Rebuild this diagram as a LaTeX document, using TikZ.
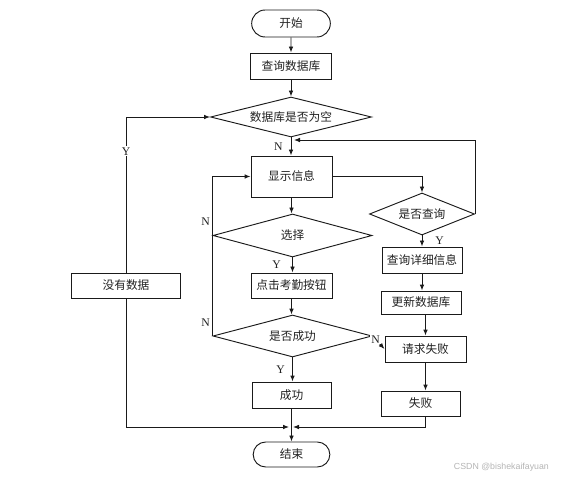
\documentclass[tikz,border=0pt]{standalone}
\usepackage{fontspec}
\setmainfont{Liberation Serif}
\newfontfamily\cjk{Noto Sans CJK SC}
\newfontfamily\wmfont{Liberation Sans}
\usepackage{tikz}
\usepackage{xcolor}
\usetikzlibrary{
  arrows.meta, positioning, shapes.geometric, shapes.misc, calc
}
\definecolor{fcline}{HTML}{1A1A1A}
\definecolor{fctext}{HTML}{222222}
\definecolor{wmgray}{HTML}{B4B4B4}

\begin{document}
\begin{tikzpicture}[x=0.03cm, y=-0.03cm,
  terminal/.style={rounded rectangle, draw=fcline, line width=0.8pt, fill=white,
    minimum width=24.3mm, minimum height=8.1mm, inner sep=1pt,
    font=\cjk\fontsize{10}{12}\selectfont, text=fctext},
  proc/.style={rectangle, draw=fcline, line width=0.8pt, fill=white,
    minimum width=24.3mm, minimum height=7.8mm, inner sep=1pt,
    font=\cjk\fontsize{10}{12}\selectfont, text=fctext},
  decide/.style={diamond, aspect=4, draw=fcline, line width=0.8pt, fill=white,
    minimum width=48.3mm, minimum height=12mm, inner sep=1pt,
    font=\cjk\fontsize{10}{12}\selectfont, text=fctext},
  flow/.style={-{Latex[length=1.8mm, width=1.4mm]}, draw=fcline, line width=0.8pt},
  yn/.style={font=\fontsize{10}{12}\selectfont, inner sep=1pt, text=fctext}
]
  \useasboundingbox (0,0) rectangle (586,481);

  % main column
  \node[terminal] (start) at (291,23.5) {开始};
  \node[proc] (qdb) at (291,66) {查询数据库};
  \node[decide] (empty) at (291,117) {数据库是否为空};
  \node[proc, minimum height=12.3mm] (show) at (291.5,176.5) {显示信息};
  \node[decide, minimum width=47.7mm, minimum height=12.9mm] (pick) at (292.5,235.5) {选择};
  \node[proc, minimum height=7.5mm] (click) at (291.5,285.5) {点击考勤按钮};
  \node[decide, minimum width=47.7mm, minimum height=12.6mm] (okq) at (292.5,336) {是否成功};
  \node[proc, minimum width=23.7mm] (ok) at (291.5,395) {成功};
  \node[terminal, minimum width=23.7mm, minimum height=7.5mm] (stop) at (291.5,454.5) {结束};

  % side columns
  \node[proc, minimum width=32.7mm, minimum height=7.5mm] (nodata) at (126,285.5) {没有数据};
  \node[decide, minimum width=31.5mm, minimum height=12.6mm] (ask) at (422,214) {是否查询};
  \node[proc, minimum width=24mm] (detail) at (422,260) {查询详细信息};
  \node[proc, minimum width=24mm, minimum height=6.9mm] (upd) at (421,302.5) {更新数据库};
  \node[proc] (reqfail) at (425.5,349) {请求失败};
  \node[proc, minimum width=23.7mm, minimum height=7.5mm] (fail) at (420.5,403.5) {失败};

  \coordinate (backin) at (294,140);
  \coordinate (mergeR) at (293,427);
  \coordinate (mergeL) at (289,427);

  \draw[flow] (start) -- (qdb);
  \draw[flow] (qdb) -- (empty);
  \draw[flow] (empty) -- node[yn, left=2mm] (nA) {N} (empty |- show.north);
  \draw[flow] (show) -- (show |- pick.north);
  \draw[flow] (pick) -- node[yn, left=3mm] (yA) {Y} (pick |- click.north);
  \draw[flow] (click) -- (click |- okq.north);
  \draw[flow] (okq) -- node[yn, left=1.8mm] (yB) {Y} (okq |- ok.north);
  \draw[flow] (ok) -- (stop);

  \draw[flow] (okq.west) |- (show.west);
  \node[yn, above left=2.5mm and 0.4mm of pick.west] (nB) {N};
  \node[yn, above left=2.5mm and 0.4mm of okq.west] (nC) {N};
  \draw[flow] (okq.east) -- node[yn, pos=0.25, fill=white] (nD) {N} (reqfail.west);

  \draw[flow] (show.east) -| (ask.north);
  \draw[flow] (ask.east) |- (backin);
  \draw[flow] (ask) -- node[yn, right=3.5mm] (yC) {Y} (detail);
  \draw[flow] (detail) -- (detail |- upd.north);
  \draw[flow] (upd.south -| reqfail) -- (reqfail);
  \draw[flow] (reqfail) -- (reqfail |- fail.north);
  \draw[flow] (fail.south -| reqfail) |- (mergeR);

  \draw[flow] (nodata.south) |- (mergeL);
  \draw[flow] (nodata.north) |- node[yn, pos=0.39, fill=white] (yD) {Y} (empty.west);

  \node[font=\wmfont\fontsize{7.5}{9}\selectfont, text=wmgray, anchor=east]
    (wm) at (553,467) {CSDN @bishekaifayuan};
\end{tikzpicture}
\end{document}
